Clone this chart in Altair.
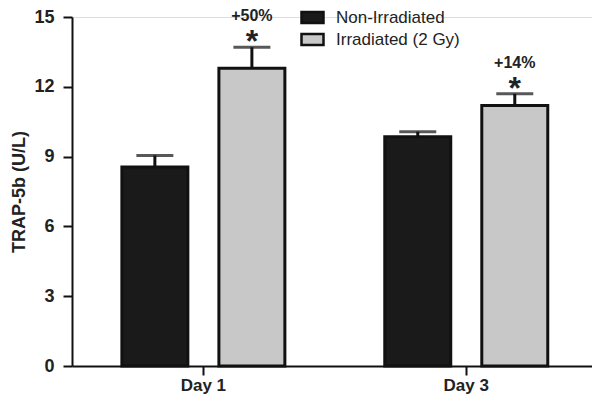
import altair as alt
import pandas as pd

days = ["Day 1", "Day 1", "Day 3", "Day 3"]
groups = ["Non-Irradiated", "Irradiated (2 Gy)", "Non-Irradiated", "Irradiated (2 Gy)"]
means = [8.55, 12.8, 9.85, 11.2]
uppers = [9.05, 13.7, 10.07, 11.7]
pct_labels = ["", "+50%", "", "+14%"]
stars = ["", "*", "", "*"]

group_order = ["Non-Irradiated", "Irradiated (2 Gy)"]
group_colors = ["#1a1a1a", "#c8c8c8"]

df = pd.DataFrame({"day": days, "group": groups, "mean": means, "upper": uppers,
                   "pct": pct_labels, "star": stars})

FONT = "Liberation Sans"

x = alt.X("day:N", title=None, sort=["Day 1", "Day 3"],
          scale=alt.Scale(paddingInner=0.38, paddingOuter=0.179, align=0.53),
          axis=alt.Axis(labelAngle=0, labelFontWeight="bold", labelFontSize=17,
                        labelFont=FONT, labelColor="#222", tickSize=9, tickWidth=2,
                        domainWidth=2, domainColor="#111", tickColor="#111",
                        labelPadding=2))
xo = alt.XOffset("group:N", sort=group_order,
                 scale=alt.Scale(paddingInner=0.32, paddingOuter=0))

bars = alt.Chart(df).mark_bar(stroke="#111", strokeWidth=3).encode(
    x=x, xOffset=xo,
    y=alt.Y("mean:Q", title="TRAP-5b (U/L)",
            scale=alt.Scale(domain=[0, 15], nice=False),
            axis=alt.Axis(values=[0, 3, 6, 9, 12, 15], grid=False, labelFontWeight="bold",
                          labelFontSize=18, labelFont=FONT, labelColor="#222",
                          titleFont=FONT, titleFontSize=18, titleFontWeight="bold",
                          titleColor="#222", tickSize=9, tickWidth=2, domainWidth=2,
                          domainColor="#111", tickColor="#111", labelPadding=9,
                          titlePadding=5)),
    fill=alt.Fill("group:N", sort=group_order,
                  scale=alt.Scale(domain=group_order, range=group_colors),
                  legend=alt.Legend(title=None, orient="none", legendX=232, legendY=-8,
                                    symbolType="M-2,-1H2V1H-2Z", symbolSize=121,
                                    symbolStrokeColor="#111", symbolStrokeWidth=2.5,
                                    labelFont=FONT, labelFontSize=17, labelColor="#222",
                                    labelOffset=15, rowPadding=1, padding=0)),
)

whisk = alt.Chart(df).mark_rule(color="#111", strokeWidth=3).encode(
    x=x, xOffset=xo, y="mean:Q", y2="upper:Q")

caps = alt.Chart(df).mark_tick(color="#111", thickness=3, size=37, orient="horizontal").encode(
    x=x, xOffset=xo, y="upper:Q")

ann = alt.Chart(df).transform_filter("datum.pct != ''")
pct = ann.mark_text(font=FONT, fontSize=16, fontWeight="bold", color="#222",
                    baseline="alphabetic", dy=-26).encode(
    x=x, xOffset=xo, y="upper:Q", text="pct:N")
star = ann.mark_text(font=FONT, fontSize=32, fontWeight="bold", color="#222",
                     baseline="middle", dy=-5).encode(
    x=x, xOffset=xo, y="upper:Q", text="star:N")

chart = alt.layer(bars, whisk, caps, pct, star).properties(
    width=520, height=349,
    autosize=alt.AutoSizeParams(type="none"),
    padding={"left": 64, "top": 9, "right": 0, "bottom": 29},
).configure_view(stroke=None).configure(background="white")

chart.save("out.html", embed_options={"renderer": "svg", "actions": False})
